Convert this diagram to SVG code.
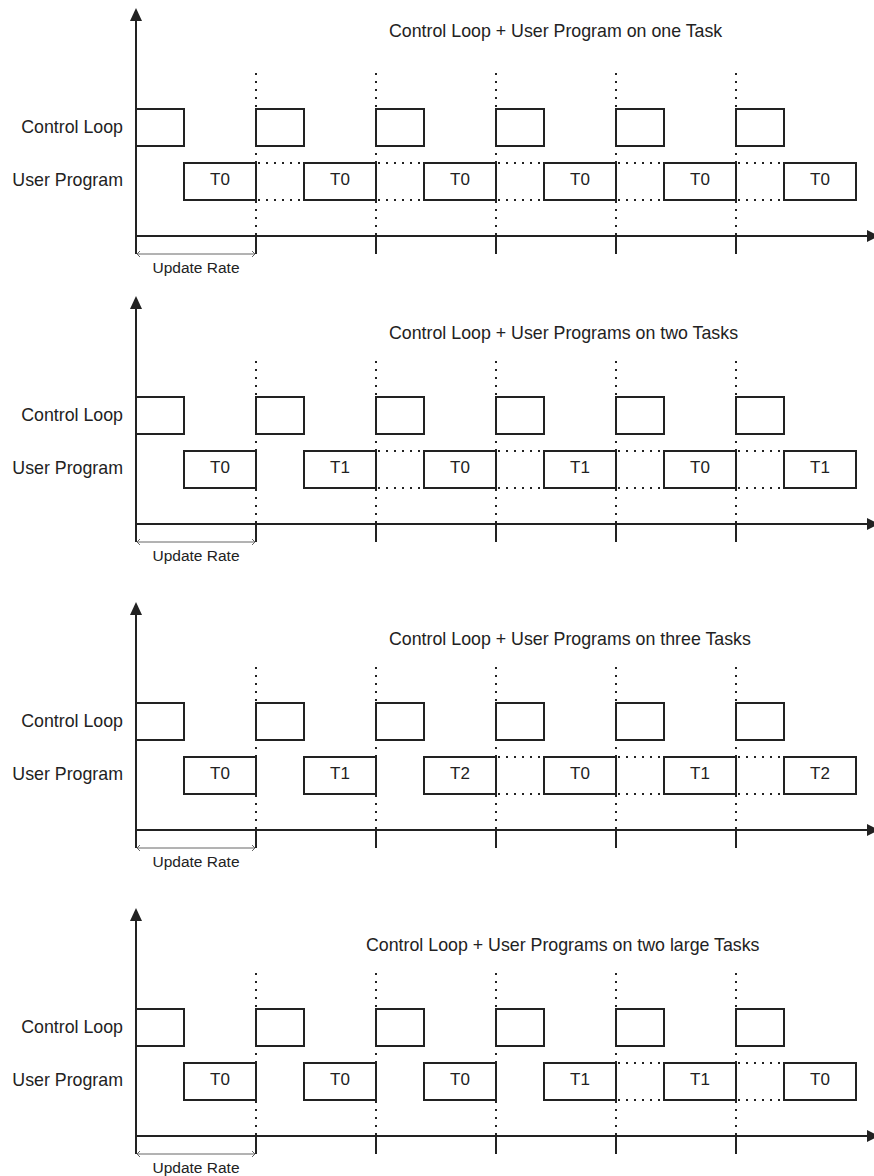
<svg xmlns="http://www.w3.org/2000/svg" width="874" height="1176" viewBox="0 0 874 1176">
<style>
.bg{fill:#ffffff}
.box{fill:none;stroke:#222;stroke-width:2}
.ax{stroke:#222;stroke-width:2;fill:none}
.head{fill:#222;stroke:none}
.dot{stroke:#222;stroke-width:2;stroke-dasharray:2 6;fill:none}
.ur{stroke:#666;stroke-width:1;fill:none}
.t{font-family:"Liberation Sans",Arial,sans-serif;fill:#222}
.title{font-size:17.8px}
.lab{font-size:17.8px;text-anchor:end}
.tl{font-size:17px;text-anchor:middle}
.urt{font-size:15.5px;text-anchor:middle}
</style>
<rect class="bg" x="0" y="0" width="874" height="1176"/>

<!-- ================= PANEL 1 ================= -->
<g id="panel1">
  <g id="p1-connectors">
    <line class="ax" x1="136" y1="20" x2="136" y2="254"/>
    <polygon class="head" points="136,8 130,21 142,21"/>
    <line class="ax" x1="136" y1="236" x2="868" y2="236"/>
    <polygon class="head" points="867,230 879,236 867,242"/>
    <path class="ax" d="M256 236V254M376 236V254M496 236V254M616 236V254M736 236V254"/>
    <path class="dot" d="M256 73V236M376 73V236M496 73V236M616 73V236M736 73V236"/>
    <path class="dot" d="M258 163H304M258 200H304M378 163H424M378 200H424M498 163H544M498 200H544M618 163H664M618 200H664M738 163H784M738 200H784"/>
    <path class="ur" d="M137 254H255M140 251L137 254L140 257M252 251L255 254L252 257"/>
  </g>
  <text class="t title" x="389" y="37">Control Loop + User Program on one Task</text>
  <text class="t lab" x="123" y="132.5">Control Loop</text>
  <text class="t lab" x="123" y="186">User Program</text>
  <text class="t urt" x="196" y="273">Update Rate</text>
  <g id="p1-cl1"><rect class="box" x="136" y="109" width="48" height="37"/></g>
  <g id="p1-cl2"><rect class="box" x="256" y="109" width="48" height="37"/></g>
  <g id="p1-cl3"><rect class="box" x="376" y="109" width="48" height="37"/></g>
  <g id="p1-cl4"><rect class="box" x="496" y="109" width="48" height="37"/></g>
  <g id="p1-cl5"><rect class="box" x="616" y="109" width="48" height="37"/></g>
  <g id="p1-cl6"><rect class="box" x="736" y="109" width="48" height="37"/></g>
  <g id="p1-up1"><rect class="box" x="184" y="163" width="72" height="37"/><text class="t tl" x="220" y="184.5">T0</text></g>
  <g id="p1-up2"><rect class="box" x="304" y="163" width="72" height="37"/><text class="t tl" x="340" y="184.5">T0</text></g>
  <g id="p1-up3"><rect class="box" x="424" y="163" width="72" height="37"/><text class="t tl" x="460" y="184.5">T0</text></g>
  <g id="p1-up4"><rect class="box" x="544" y="163" width="72" height="37"/><text class="t tl" x="580" y="184.5">T0</text></g>
  <g id="p1-up5"><rect class="box" x="664" y="163" width="72" height="37"/><text class="t tl" x="700" y="184.5">T0</text></g>
  <g id="p1-up6"><rect class="box" x="784" y="163" width="72" height="37"/><text class="t tl" x="820" y="184.5">T0</text></g>
</g>

<!-- ================= PANEL 2 ================= -->
<g id="panel2" transform="translate(0,288)">
  <g id="p2-connectors">
    <line class="ax" x1="136" y1="20" x2="136" y2="254"/>
    <polygon class="head" points="136,8 130,21 142,21"/>
    <line class="ax" x1="136" y1="236" x2="868" y2="236"/>
    <polygon class="head" points="867,230 879,236 867,242"/>
    <path class="ax" d="M256 236V254M376 236V254M496 236V254M616 236V254M736 236V254"/>
    <path class="dot" d="M256 73V236M376 73V236M496 73V236M616 73V236M736 73V236"/>
    <path class="dot" d="M378 163H424M378 200H424M498 163H544M498 200H544M618 163H664M618 200H664M738 163H784M738 200H784"/>
    <path class="ur" d="M137 254H255M140 251L137 254L140 257M252 251L255 254L252 257"/>
  </g>
  <text class="t title" x="389" y="51">Control Loop + User Programs on two Tasks</text>
  <text class="t lab" x="123" y="132.5">Control Loop</text>
  <text class="t lab" x="123" y="186">User Program</text>
  <text class="t urt" x="196" y="273">Update Rate</text>
  <g id="p2-cl1"><rect class="box" x="136" y="109" width="48" height="37"/></g>
  <g id="p2-cl2"><rect class="box" x="256" y="109" width="48" height="37"/></g>
  <g id="p2-cl3"><rect class="box" x="376" y="109" width="48" height="37"/></g>
  <g id="p2-cl4"><rect class="box" x="496" y="109" width="48" height="37"/></g>
  <g id="p2-cl5"><rect class="box" x="616" y="109" width="48" height="37"/></g>
  <g id="p2-cl6"><rect class="box" x="736" y="109" width="48" height="37"/></g>
  <g id="p2-up1"><rect class="box" x="184" y="163" width="72" height="37"/><text class="t tl" x="220" y="184.5">T0</text></g>
  <g id="p2-up2"><rect class="box" x="304" y="163" width="72" height="37"/><text class="t tl" x="340" y="184.5">T1</text></g>
  <g id="p2-up3"><rect class="box" x="424" y="163" width="72" height="37"/><text class="t tl" x="460" y="184.5">T0</text></g>
  <g id="p2-up4"><rect class="box" x="544" y="163" width="72" height="37"/><text class="t tl" x="580" y="184.5">T1</text></g>
  <g id="p2-up5"><rect class="box" x="664" y="163" width="72" height="37"/><text class="t tl" x="700" y="184.5">T0</text></g>
  <g id="p2-up6"><rect class="box" x="784" y="163" width="72" height="37"/><text class="t tl" x="820" y="184.5">T1</text></g>
</g>

<!-- ================= PANEL 3 ================= -->
<g id="panel3" transform="translate(0,594)">
  <g id="p3-connectors">
    <line class="ax" x1="136" y1="20" x2="136" y2="254"/>
    <polygon class="head" points="136,8 130,21 142,21"/>
    <line class="ax" x1="136" y1="236" x2="868" y2="236"/>
    <polygon class="head" points="867,230 879,236 867,242"/>
    <path class="ax" d="M256 236V254M376 236V254M496 236V254M616 236V254M736 236V254"/>
    <path class="dot" d="M256 73V236M376 73V236M496 73V236M616 73V236M736 73V236"/>
    <path class="dot" d="M498 163H544M498 200H544M618 163H664M618 200H664M738 163H784M738 200H784"/>
    <path class="ur" d="M137 254H255M140 251L137 254L140 257M252 251L255 254L252 257"/>
  </g>
  <text class="t title" x="389" y="51">Control Loop + User Programs on three Tasks</text>
  <text class="t lab" x="123" y="132.5">Control Loop</text>
  <text class="t lab" x="123" y="186">User Program</text>
  <text class="t urt" x="196" y="273">Update Rate</text>
  <g id="p3-cl1"><rect class="box" x="136" y="109" width="48" height="37"/></g>
  <g id="p3-cl2"><rect class="box" x="256" y="109" width="48" height="37"/></g>
  <g id="p3-cl3"><rect class="box" x="376" y="109" width="48" height="37"/></g>
  <g id="p3-cl4"><rect class="box" x="496" y="109" width="48" height="37"/></g>
  <g id="p3-cl5"><rect class="box" x="616" y="109" width="48" height="37"/></g>
  <g id="p3-cl6"><rect class="box" x="736" y="109" width="48" height="37"/></g>
  <g id="p3-up1"><rect class="box" x="184" y="163" width="72" height="37"/><text class="t tl" x="220" y="184.5">T0</text></g>
  <g id="p3-up2"><rect class="box" x="304" y="163" width="72" height="37"/><text class="t tl" x="340" y="184.5">T1</text></g>
  <g id="p3-up3"><rect class="box" x="424" y="163" width="72" height="37"/><text class="t tl" x="460" y="184.5">T2</text></g>
  <g id="p3-up4"><rect class="box" x="544" y="163" width="72" height="37"/><text class="t tl" x="580" y="184.5">T0</text></g>
  <g id="p3-up5"><rect class="box" x="664" y="163" width="72" height="37"/><text class="t tl" x="700" y="184.5">T1</text></g>
  <g id="p3-up6"><rect class="box" x="784" y="163" width="72" height="37"/><text class="t tl" x="820" y="184.5">T2</text></g>
</g>

<!-- ================= PANEL 4 ================= -->
<g id="panel4" transform="translate(0,900)">
  <g id="p4-connectors">
    <line class="ax" x1="136" y1="20" x2="136" y2="254"/>
    <polygon class="head" points="136,8 130,21 142,21"/>
    <line class="ax" x1="136" y1="236" x2="868" y2="236"/>
    <polygon class="head" points="867,230 879,236 867,242"/>
    <path class="ax" d="M256 236V254M376 236V254M496 236V254M616 236V254M736 236V254"/>
    <path class="dot" d="M256 73V236M376 73V236M496 73V236M616 73V236M736 73V236"/>
    <path class="dot" d="M618 163H664M618 200H664M738 163H784M738 200H784"/>
    <path class="ur" d="M137 254H255M140 251L137 254L140 257M252 251L255 254L252 257"/>
  </g>
  <text class="t title" x="366" y="51">Control Loop + User Programs on two large Tasks</text>
  <text class="t lab" x="123" y="132.5">Control Loop</text>
  <text class="t lab" x="123" y="186">User Program</text>
  <text class="t urt" x="196" y="273">Update Rate</text>
  <g id="p4-cl1"><rect class="box" x="136" y="109" width="48" height="37"/></g>
  <g id="p4-cl2"><rect class="box" x="256" y="109" width="48" height="37"/></g>
  <g id="p4-cl3"><rect class="box" x="376" y="109" width="48" height="37"/></g>
  <g id="p4-cl4"><rect class="box" x="496" y="109" width="48" height="37"/></g>
  <g id="p4-cl5"><rect class="box" x="616" y="109" width="48" height="37"/></g>
  <g id="p4-cl6"><rect class="box" x="736" y="109" width="48" height="37"/></g>
  <g id="p4-up1"><rect class="box" x="184" y="163" width="72" height="37"/><text class="t tl" x="220" y="184.5">T0</text></g>
  <g id="p4-up2"><rect class="box" x="304" y="163" width="72" height="37"/><text class="t tl" x="340" y="184.5">T0</text></g>
  <g id="p4-up3"><rect class="box" x="424" y="163" width="72" height="37"/><text class="t tl" x="460" y="184.5">T0</text></g>
  <g id="p4-up4"><rect class="box" x="544" y="163" width="72" height="37"/><text class="t tl" x="580" y="184.5">T1</text></g>
  <g id="p4-up5"><rect class="box" x="664" y="163" width="72" height="37"/><text class="t tl" x="700" y="184.5">T1</text></g>
  <g id="p4-up6"><rect class="box" x="784" y="163" width="72" height="37"/><text class="t tl" x="820" y="184.5">T0</text></g>
</g>
</svg>
